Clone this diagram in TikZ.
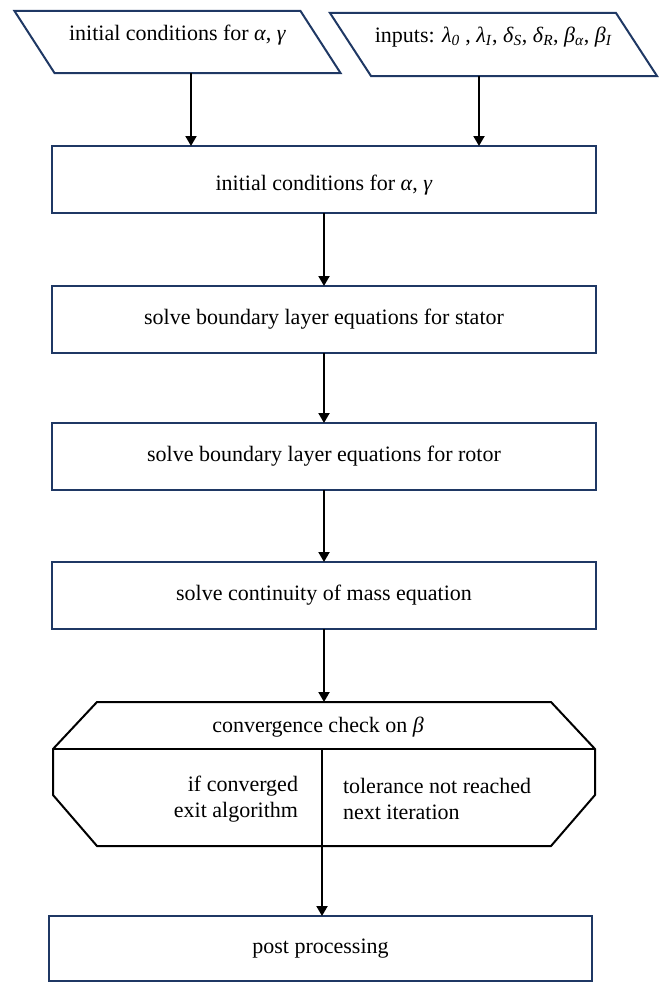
\documentclass[tikz,border=0pt]{standalone}
\usepackage{fontspec}
\setmainfont{Liberation Serif}
\usepackage{tikz}
\usetikzlibrary{positioning, arrows.meta, calc, shapes.geometric}
\definecolor{boxnavy}{HTML}{1F3864}
\newcommand{\gk}[2]{\textit{#1}\textsubscript{\textit{#2}}}

\begin{document}
\begin{tikzpicture}[
  x=1pt, y=-1pt,
  >={Triangle[length=10pt, width=11pt]},
  font=\fontsize{22}{26}\selectfont,
  line width=2pt,
  procbox/.style={
    draw=boxnavy, minimum width=544pt, minimum height=67pt,
    inner sep=0pt, outer sep=0pt
  },
  inbox/.style={
    minimum width=286pt, minimum height=62pt,
    inner sep=0pt, outer sep=0pt, text depth=19pt
  },
  inline/.style={draw=boxnavy, line join=miter},
  arr/.style={->, black},
  chkline/.style={black, line join=miter}
]
\useasboundingbox (0,0) rectangle (659,982);

% Input row (parallelograms)
\node[inbox] (inL) at (177.5, 42)
  {initial conditions for \textit{α}, \textit{γ}};
\draw[inline] ([xshift=-20pt]inL.north west) -- ([xshift=-20pt]inL.north east)
  -- ([xshift=20pt]inL.south east) -- ([xshift=20pt]inL.south west) -- cycle;
\node[inbox, minimum height=63pt] (inR) at (493.5, 44.5)
  {inputs: \gk{λ}{0} , \gk{λ}{I}, \gk{δ}{S}, \gk{δ}{R}, \gk{β}{α}, \gk{β}{I}};
\draw[inline] ([xshift=-20.5pt]inR.north west) -- ([xshift=-20.5pt]inR.north east)
  -- ([xshift=20.5pt]inR.south east) -- ([xshift=20.5pt]inR.south west) -- cycle;

% Main column
\node[procbox, text height=27pt] (init) at (324, 179.5) {initial conditions for \textit{α}, \textit{γ}};
\node[procbox] (stator) at (324, 319.5) {solve boundary layer equations for stator};
\node[procbox] (rotor) at (324, 456.5) {solve boundary layer equations for rotor};
\node[procbox] (mass) at (324, 595.5) {solve continuity of mass equation};

% Convergence check
\node[minimum width=542pt, minimum height=144pt, inner sep=0pt, outer sep=0pt]
  (chk) at (324, 774) {};
\draw[chkline]
  ([xshift=44pt]chk.north west) -- ([xshift=-44pt]chk.north east)
  -- ([yshift=-47pt]chk.north east) -- ([yshift=51pt]chk.south east)
  -- ([xshift=-44pt]chk.south east) -- ([xshift=44pt]chk.south west)
  -- ([yshift=51pt]chk.south west) -- ([yshift=-47pt]chk.north west) -- cycle;
\draw[chkline] ([yshift=-47pt]chk.north west) -- ([yshift=-47pt]chk.north east);
\node (chkhead) at (318, 727) {convergence check on \textit{β}};
\node[anchor=east, align=right, inner sep=0pt] (conv) at (299, 799)
  {if converged\\exit algorithm};
\node[anchor=west, align=left, inner sep=0pt] (notconv) at (342, 799)
  {tolerance not reached\\next iteration};
\coordinate (split) at (322, 749);

\node[procbox, minimum width=543pt, minimum height=65pt] (post) at (320.5, 948.5)
  {post processing};

% Arrows
\draw[arr] ([xshift=13.5pt]inL.south) -- ([xshift=13.5pt]inL.south |- init.north);
\draw[arr] ([xshift=-14.5pt]inR.south) -- ([xshift=-14.5pt]inR.south |- init.north);
\draw[arr] (init) -- (stator);
\draw[arr] (stator) -- (rotor);
\draw[arr] (rotor) -- (mass);
\draw[arr] (mass.south) -- (mass.south |- chk.north);
\draw[arr] (split) -- (split |- post.north);

\end{tikzpicture}
\end{document}
